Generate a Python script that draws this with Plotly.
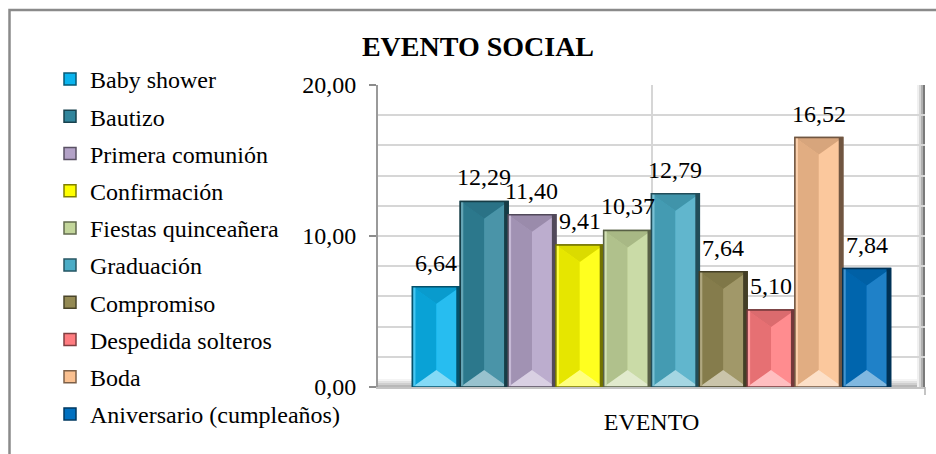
import plotly.graph_objects as go

# ---- data -------------------------------------------------------------
categoria = "EVENTO"
eventos = [
    "Baby shower", "Bautizo", "Primera comunión", "Confirmación",
    "Fiestas quinceañera", "Graduación", "Compromiso",
    "Despedida solteros", "Boda", "Aniversario (cumpleaños)",
]
porcentajes = [6.64, 12.29, 11.40, 9.41, 10.37, 12.79, 7.64, 5.10, 16.52, 7.84]
colores = [
    "#0AB4EE", "#31859C", "#B3A2C7", "#FFFF00", "#C3D69B",
    "#4BACC6", "#948A54", "#FF7C80", "#FAC090", "#0070C0",
]
y_ticks = [0, 10, 20]

# ---- geometry of the drawing area (pixels) ---------------------------
W, H = 936, 454
L, R, T, B = 378, 11, 85, 67
PW = W - L - R          # plot width in px
PH = H - T - B          # plot height in px
Y_MAX = 20
BARGAP = 0.126
FONT = "Liberation Serif"


def hex_rgb(h):
    h = h.lstrip("#")
    return [int(h[i:i + 2], 16) for i in (0, 2, 4)]


def rgb_hex(c):
    return "#" + "".join(f"{max(0, min(255, int(round(v)))):02x}" for v in c)


def shade(h, f):
    return rgb_hex([v * f for v in hex_rgb(h)])


def tint(h, f):
    return rgb_hex([v + (255 - v) * f for v in hex_rgb(h)])


def paper_x(px):
    return (px - L) / PW


def paper_y(py):
    return (H - B - py) / PH


def fmt(v):
    return f"{v:.2f}".replace(".", ",")


fig = go.Figure()
for i, (name, val, col) in enumerate(zip(eventos, porcentajes, colores)):
    fig.add_trace(go.Bar(
        x=[categoria], y=[val], name=name, legendgroup=name,
        marker=dict(color=col, line=dict(color=shade(col, 0.5), width=1.5)),
        hoverinfo="name+y",
    ))

# ---- bevelled look of each bar, derived from the bar values ----------
shapes = []
annotations = []
group_w = 1 - BARGAP
bar_w = group_w / len(porcentajes)
ux = 1.0 / PW               # category units per px
uy = Y_MAX / PH             # value units per px
dy = 17 * uy                # depth of the top / bottom facets
for i, (val, col) in enumerate(zip(porcentajes, colores)):
    x0 = -group_w / 2 + bar_w * i
    x1 = x0 + bar_w
    cx = (x0 + x1) / 2
    d = min(dy, val / 2)

    def poly(pts, fill):
        path = "M " + " L ".join(f"{px},{py}" for px, py in pts) + " Z"
        shapes.append(dict(type="path", path=path, xref="x", yref="y",
                           fillcolor=fill, line=dict(width=0), layer="above"))

    # left and right halves
    poly([(x0, 0), (x0, val), (cx, val - d), (cx, d)], shade(col, 0.9))
    poly([(x1, 0), (x1, val), (cx, val - d), (cx, d)], tint(col, 0.12))
    # top facet and bottom (light) facet
    poly([(x0, val), (x1, val), (cx, val - d)], shade(col, 0.86))
    poly([(x0, 0), (x1, 0), (cx, d)], tint(col, 0.5))
    # dark right edge and light left edge
    poly([(x1 - 4 * ux, 0), (x1 - 4 * ux, val), (x1, val), (x1, 0)], shade(col, 0.45))
    poly([(x0, 0), (x0, val), (x0 + 3 * ux, val), (x0 + 3 * ux, 0)], tint(col, 0.25))
    # outline
    shapes.append(dict(type="rect", xref="x", yref="y", x0=x0, x1=x1, y0=0, y1=val,
                       line=dict(color=shade(col, 0.45), width=1.5),
                       fillcolor="rgba(0,0,0,0)", layer="above"))
    annotations.append(dict(x=cx, y=val, xref="x", yref="y", text=fmt(val),
                            showarrow=False, yshift=24,
                            font=dict(family=FONT, size=24, color="#000000")))

# ---- 3D wall / floor decoration --------------------------------------
floor_cols = ["#f4f4f4", "#e2e2e2", "#cfcfcf", "#b8b8b8"]
for k, c in enumerate(floor_cols):
    shapes.append(dict(type="rect", xref="paper", yref="y", x0=0, x1=1,
                       y0=(len(floor_cols) - k) * 2 * uy, y1=(len(floor_cols) - k - 1) * 2 * uy,
                       fillcolor=c, line=dict(width=0), layer="below"))
wall_cols = ["#f0f0f0", "#d6d6d6", "#b0b0b0", "#7a7a7a"]
for k, c in enumerate(wall_cols):
    shapes.append(dict(type="rect", xref="paper", yref="paper",
                       x0=paper_x(PW + L - 8 + 2 * k), x1=paper_x(PW + L - 6 + 2 * k),
                       y0=0, y1=1, fillcolor=c, line=dict(width=0), layer="below"))
shapes.append(dict(type="line", xref="paper", yref="paper",
                   x0=1, x1=1, y0=paper_y(H - B + 8), y1=0,
                   line=dict(color="#b0b0b0", width=1.5)))
# chart frame
shapes.append(dict(type="rect", xref="paper", yref="paper",
                   x0=paper_x(9.5), x1=paper_x(W + 20), y0=paper_y(H + 20), y1=paper_y(10),
                   line=dict(color="#8a8a8a", width=2.5), fillcolor="rgba(0,0,0,0)",
                   layer="below"))

grid = "#d6d6d6"
fig.update_layout(
    width=W, height=H,
    margin=dict(l=L, r=R, t=T, b=B, pad=0),
    paper_bgcolor="white", plot_bgcolor="white",
    separators=",.",
    barmode="group", bargap=BARGAP, bargroupgap=0,
    font=dict(family=FONT, size=24, color="#000000"),
    title=dict(text="<b>EVENTO SOCIAL</b>", x=478 / W, xref="container", xanchor="center",
               y=1 - 46 / H, yref="container", yanchor="middle",
               font=dict(family=FONT, size=28, color="#000000")),
    xaxis=dict(type="category", range=[-0.5, 0.5], showticklabels=False, ticks="",
               showgrid=True, gridcolor=grid, gridwidth=2,
               showline=True, linecolor="#c4c4c4", linewidth=2,
               title=dict(text=categoria, standoff=25,
                          font=dict(family=FONT, size=24, color="#000000"))),
    yaxis=dict(range=[0, Y_MAX], tickvals=y_ticks, tickformat=".2f",
               ticks="outside", ticklen=7, tickwidth=1.5, tickcolor="#8c8c8c",
               ticklabelstandoff=8,
               showline=True, linecolor="#9a9a9a", linewidth=2,
               showgrid=True, gridcolor=grid, gridwidth=2, zeroline=False,
               minor=dict(dtick=2, showgrid=True, gridcolor=grid, gridwidth=2),
               tickfont=dict(family=FONT, size=24, color="#000000")),
    legend=dict(x=paper_x(50), xanchor="left", y=paper_y(57), yanchor="top",
                traceorder="grouped", tracegroupgap=3, maxheight=420,
                font=dict(family=FONT, size=24, color="#000000"),
                bgcolor="rgba(0,0,0,0)", borderwidth=0),
    shapes=shapes,
    annotations=annotations,
    showlegend=True,
)

fig.write_html("out.html")
